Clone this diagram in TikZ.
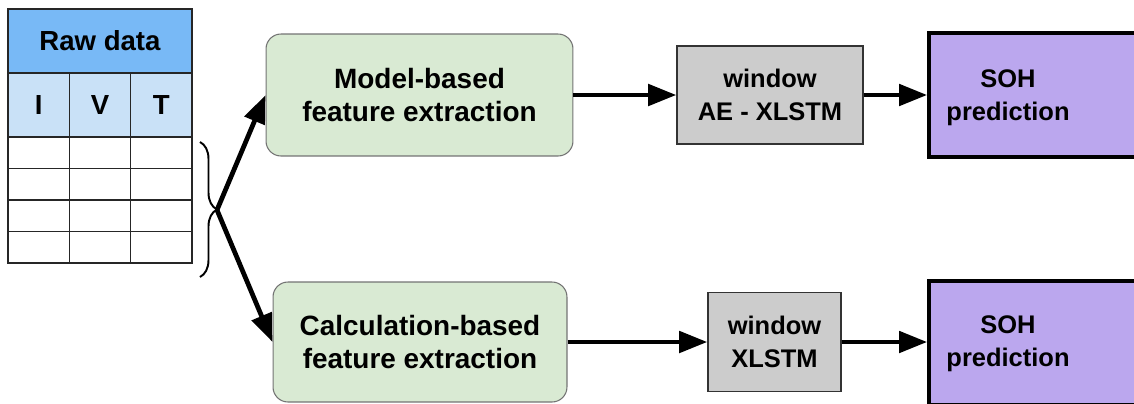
\documentclass[tikz,border=0pt]{standalone}
\usepackage{fontspec}
\setmainfont{Liberation Sans}
\usetikzlibrary{arrows.meta,decorations.pathreplacing}
\definecolor{headblue}{HTML}{78B9F6}
\definecolor{colblue}{HTML}{C9E1F7}
\definecolor{featgreen}{HTML}{D9EAD3}
\definecolor{wingray}{HTML}{CCCCCC}
\definecolor{sohpurple}{HTML}{BBA7EE}
\begin{document}
\begin{tikzpicture}[x=0.02cm,y=-0.02cm,
  cell/.style={draw=black!85,line width=0.8pt,inner sep=0pt,outer sep=0pt,
    font=\fontsize{15.7}{18.7}\selectfont\bfseries},
  feat/.style={draw=black!55,line width=0.6pt,fill=featgreen,rounded corners=8.5pt,
    align=center,font=\fontsize{15.9}{18.7}\selectfont\bfseries},
  win/.style={draw=black!80,line width=0.8pt,fill=wingray,align=center,
    font=\fontsize{14.5}{18.7}\selectfont\bfseries},
  soh/.style={draw=black,line width=2.1pt,fill=sohpurple,minimum width=4.22cm,minimum height=2.48cm},
  sohtxt/.style={align=center,font=\fontsize{14.5}{18.7}\selectfont\bfseries},
  flow/.style={line width=2.7pt,-{Triangle[length=16pt,width=12pt]}}]
\path[use as bounding box,clip] (0,0) rectangle (1134,403);
% raw data table
\node[cell,fill=headblue,minimum width=3.68cm,minimum height=1.28cm] (raw) at (100,41) {Raw data};
\node[cell,fill=colblue,minimum width=1.227cm,minimum height=1.28cm] (colI) at (38.7,105) {I};
\node[cell,fill=colblue,minimum width=1.227cm,minimum height=1.28cm] (colV) at (100,105) {V};
\node[cell,fill=colblue,minimum width=1.227cm,minimum height=1.28cm] (colT) at (161.3,105) {T};
\foreach \r in {0,1,2,3}
  \foreach \c in {0,1,2}
    \draw[black!85,line width=0.8pt] (8+61.33*\c,137+31.5*\r) rectangle ++(61.33,31.5);
% brace
\coordinate (brtop) at (200,142);
\coordinate (brbot) at (200,277);
\coordinate (brtip) at (217,210);
\draw[line width=1.1pt,decorate,decoration={brace,amplitude=0.34cm}] (brtop) -- (brbot);
% feature extraction
\node[feat,minimum width=6.14cm,minimum height=2.44cm] (model) at (419.5,95) {Model-based\\feature extraction};
\node[feat,minimum width=5.88cm,minimum height=2.4cm] (calc) at (420,342) {Calculation-based\\feature extraction};
% windows
\node[win,minimum width=3.72cm,minimum height=1.96cm] (aewin) at (770,95) {window\\AE - XLSTM};
\node[win,minimum width=2.66cm,minimum height=1.98cm] (xwin) at (774.5,342) {window\\XLSTM};
% SOH boxes
\node[soh] (soha) at (1034.5,95) {};
\node[sohtxt] (sohatext) at (1008,98) {SOH\\prediction};
\node[soh] (sohb) at (1034.5,343) {};
\node[sohtxt] (sohbtext) at (1008,344) {SOH\\prediction};
% arrows
\draw[flow] (brtip) -- (model.west);
\draw[flow] (brtip) -- (calc.west);
\draw[flow] (model.east) -- (aewin.west);
\draw[flow] (aewin.east) -- (aewin.east -| soha.west);
\draw[flow] (calc.east) -- (xwin.west);
\draw[flow] (xwin.east) -- (xwin.east -| sohb.west);
\end{tikzpicture}
\end{document}
